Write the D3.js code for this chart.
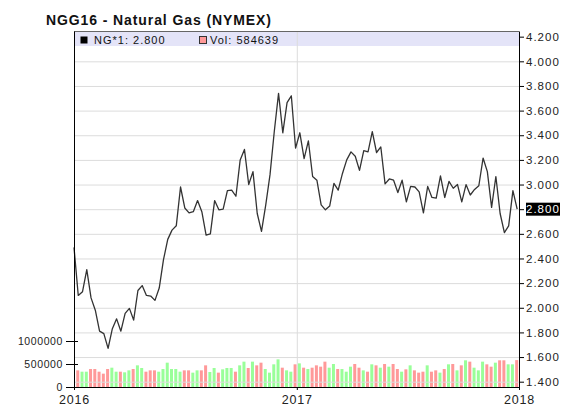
<!DOCTYPE html>
<html>
<head>
<meta charset="utf-8">
<script src="https://cdn.jsdelivr.net/npm/d3@7"></script>
<style>
  body { margin: 0; background: #fff; }
  svg { display: block; font-family: "Liberation Sans", Arial, sans-serif; }
</style>
</head>
<body>
<div id="chart"></div>
<script>
// weekly closes, first week of 2016 to last week of 2017
const startDate = "2016-01-01";
const closes = [
  2.49, 2.10, 2.13, 2.31, 2.08, 1.98, 1.81, 1.79, 1.67, 1.83,
  1.91, 1.81, 1.955, 1.995, 1.90, 2.14, 2.18, 2.10, 2.095, 2.06,
  2.16, 2.39, 2.555, 2.63, 2.665, 2.98, 2.81, 2.77, 2.78, 2.87,
  2.78, 2.59, 2.60, 2.87, 2.795, 2.80, 2.95, 2.955, 2.905, 3.20,
  3.285, 3.00, 3.105, 2.765, 2.62, 2.835, 3.08, 3.43, 3.74, 3.42,
  3.665, 3.72, 3.295, 3.42, 3.21, 3.355, 3.065, 3.035, 2.835, 2.795,
  2.825, 3.01, 2.955, 3.09, 3.20, 3.265, 3.23, 3.115, 3.275, 3.265,
  3.43, 3.26, 3.305, 3.005, 3.045, 3.035, 2.935, 3.035, 2.86, 2.985,
  2.98, 2.94, 2.77, 2.985, 2.895, 2.89, 3.07, 2.895, 3.025, 2.97,
  3.00, 2.86, 3.00, 2.915, 2.96, 2.99, 3.215, 3.105, 2.815, 3.065,
  2.765, 2.61, 2.665, 2.95, 2.80
];
const volumes = [
  null,
  362000, 333000, 333000, 391000, 391000, 333000, 290000, 391000, 420000, 333000,
  333000, 319000, 362000, 391000, 471000, 413000, 333000, 362000, 362000, 333000,
  391000, 529000, 391000, 391000, 333000, 362000,
  362000, 312000, 362000, 362000, 471000, 326000, 413000, 312000, 384000, 413000,
  413000, 333000, 471000, 551000, 413000, 551000, 471000, 529000, 391000, 312000,
  493000, 601000, 420000, 362000, 333000, 493000,
  514000, 420000, 391000, 420000, 471000, 442000, 551000, 420000, 500000, 391000,
  391000, 333000, 442000, 500000, 420000, 362000, 333000, 493000, 471000, 420000,
  500000, 442000, 500000, 391000, 333000,
  384000, 471000, 362000, 312000, 333000, 471000, 333000, 362000, 312000, 391000,
  493000, 500000, 362000, 471000, 580000, 551000, 420000, 362000, 551000, 493000,
  442000, 529000, 580000, 580000, 493000, 493000, 585000
];
const priceTicks = [1.4, 1.6, 1.8, 2.0, 2.2, 2.4, 2.6, 2.8, 3.0, 3.2, 3.4, 3.6, 3.8, 4.0, 4.2];
const volumeTicks = [0, 500000, 1000000];
const yearTicks = ["2016-01-01", "2017-01-01", "2018-01-01"];
const lastClose = 2.800;
const lastVolume = 584639;
const title = "NGG16 - Natural Gas (NYMEX)";

const W = 581, H = 414;
const margin = { top: 31, right: 62, bottom: 27, left: 74 };
const width = W - margin.left - margin.right;
const height = H - margin.top - margin.bottom;

const parseDate = d3.timeParse("%Y-%m-%d");
const start = parseDate(startDate);
const dates = closes.map((_, i) => d3.timeDay.offset(start, 7 * i));
const years = yearTicks.map(parseDate);

const x = d3.scaleTime().domain([years[0], years[years.length - 1]]).range([0, width]);
const yPrice = d3.scaleLinear().domain([1.357, 4.246]).range([height, 0]);
const yVol = d3.scaleLinear().domain([0, 7740000]).range([height, 0]);

const svg = d3.select("#chart").append("svg").attr("width", W).attr("height", H);
svg.append("rect").attr("width", W).attr("height", H).attr("fill", "#fff");

svg.append("text")
  .attr("x", 46).attr("y", 25)
  .attr("font-size", "14px").attr("font-weight", "bold")
  .attr("letter-spacing", "0.9px")
  .attr("fill", "#111")
  .text(title);

const g = svg.append("g").attr("transform", `translate(${margin.left},${margin.top})`);

// volume bars
const volData = volumes.map((v, i) => ({ v, i })).filter(d => d.v != null);
g.append("g")
  .selectAll("rect")
  .data(volData)
  .join("rect")
  .attr("x", d => x(dates[d.i]) - 2)
  .attr("width", 3)
  .attr("y", d => yVol(d.v))
  .attr("height", d => height - yVol(d.v))
  .attr("fill", d => closes[d.i] >= closes[d.i - 1] ? "#99ff99" : "#ff9999");

// horizontal gridlines
g.append("g")
  .call(d3.axisLeft(yPrice).tickValues(priceTicks).tickSize(-width).tickFormat(""))
  .call(s => s.select(".domain").remove())
  .selectAll("line").attr("stroke", "#dcdcdc");

// legend band
g.append("rect")
  .attr("x", 0).attr("y", 0)
  .attr("width", width).attr("height", 15)
  .attr("fill", "#e4e4f8");

// vertical gridline at year
g.append("g")
  .attr("transform", `translate(0,${height})`)
  .call(d3.axisBottom(x).tickValues(years.slice(1, -1)).tickSize(height).tickFormat(""))
  .call(s => s.select(".domain").remove())
  .selectAll("line").attr("y2", -height).attr("stroke", "#dcdcdc");

// price line
const line = d3.line()
  .x((d, i) => x(dates[i]))
  .y(d => yPrice(d));

g.append("path")
  .datum(closes)
  .attr("fill", "none")
  .attr("stroke", "#333")
  .attr("stroke-width", 1.3)
  .attr("stroke-linejoin", "round")
  .attr("d", line);

// top border
g.append("line")
  .attr("x1", 0).attr("x2", width)
  .attr("y1", 0.5).attr("y2", 0.5)
  .attr("stroke", "#666");

// right price axis
const rightAxis = g.append("g")
  .attr("transform", `translate(${width},0)`)
  .call(d3.axisRight(yPrice).tickValues(priceTicks).tickSize(5).tickSizeOuter(0)
    .tickPadding(2).tickFormat(d3.format(".3f")));
rightAxis.selectAll("text")
  .attr("font-size", "11.5px").attr("letter-spacing", "1px")
  .attr("font-family", "Liberation Sans, Arial, sans-serif").attr("fill", "#222");

// last price marker
const lastY = yPrice(lastClose);
rightAxis.append("rect")
  .attr("x", 7).attr("y", lastY - 6.5)
  .attr("width", 34).attr("height", 13)
  .attr("fill", "#000");
rightAxis.append("text")
  .attr("x", 7).attr("y", lastY).attr("dy", "0.32em")
  .attr("font-size", "11.5px").attr("letter-spacing", "1px")
  .attr("fill", "#fff").attr("text-anchor", "start")
  .text(d3.format(".3f")(lastClose));

// left volume axis
const leftAxis = g.append("g")
  .call(d3.axisLeft(yVol).tickValues(volumeTicks).tickSize(8).tickSizeOuter(0)
    .tickPadding(3).tickFormat(d3.format("d")));
leftAxis.selectAll(".tick line").attr("x2", 4).attr("x1", -8);
leftAxis.selectAll("text")
  .attr("font-size", "10.5px").attr("letter-spacing", "0.6px")
  .attr("font-family", "Liberation Sans, Arial, sans-serif").attr("fill", "#222");

// bottom time axis
const bottomAxis = g.append("g")
  .attr("transform", `translate(0,${height})`)
  .call(d3.axisBottom(x).tickValues(years).tickSize(3).tickSizeOuter(0)
    .tickPadding(5).tickFormat(d3.timeFormat("%Y")));
bottomAxis.selectAll("text")
  .attr("font-size", "12.5px").attr("letter-spacing", "0.8px")
  .attr("font-family", "Liberation Sans, Arial, sans-serif").attr("fill", "#222");

// legend
const legend = g.append("g").attr("font-size", "11px").attr("letter-spacing", "1px").attr("fill", "#111");
legend.append("rect").attr("x", 6.5).attr("y", 5.5).attr("width", 7).attr("height", 7).attr("fill", "#000");
legend.append("text").attr("x", 20).attr("y", 13).text(`NG*1: ${d3.format(".3f")(lastClose)}`);
legend.append("rect").attr("x", 125.5).attr("y", 5.5).attr("width", 7).attr("height", 7)
  .attr("fill", "#ff9999").attr("stroke", "#333");
legend.append("text").attr("x", 136).attr("y", 13).text(`Vol: ${lastVolume}`);
</script>
</body>
</html>
